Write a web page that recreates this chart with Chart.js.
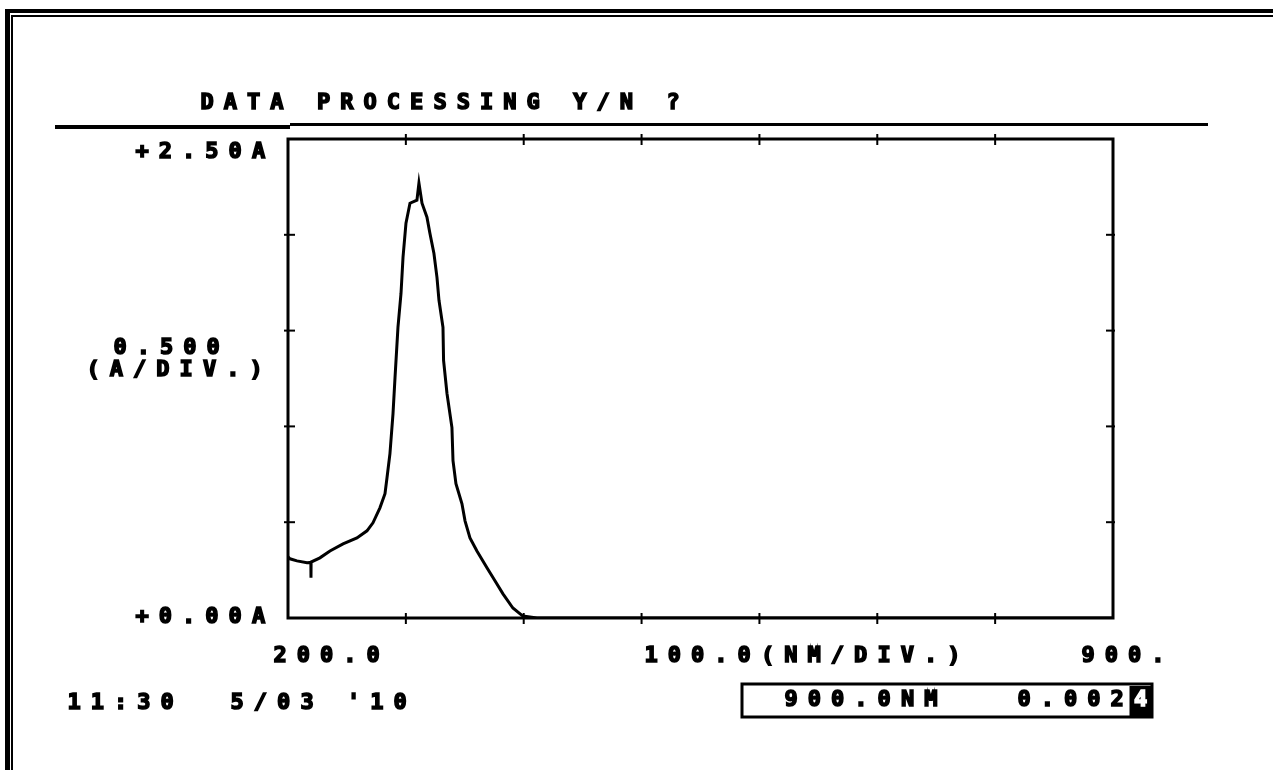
<!DOCTYPE html>
<html>
<head>
<meta charset="utf-8">
<title>DATA PROCESSING</title>
<script src="https://cdn.jsdelivr.net/npm/chart.js@4.4.1/dist/chart.umd.min.js"></script>
<style>
    body { margin: 0; background: #fff; }
    canvas { display: block; }
</style>
</head>
<body>
<canvas id="spectrum" width="1273" height="770"></canvas>
<script>
// wavelength (nm) and absorbance (A)
const wavelength = [200, 201.7, 207.6, 216.1, 219.4, 219.5, 219.6, 227.1, 235.6, 246.7, 258.5, 267.0, 272.1, 278.0, 282.3, 284.0, 286.5, 289.1, 290.8, 293.3, 295.9, 297.6, 300.1, 303.5, 309.4, 311.1, 313.7, 317.9, 320.4, 323.8, 326.4, 328.1, 331.5, 332.0, 334.9, 339.1, 340.0, 342.5, 347.6, 350.2, 354.4, 360.3, 368.8, 375.6, 382.4, 390.8, 399.3, 411.2, 900]
const absorbance = [0.319, 0.309, 0.298, 0.288, 0.290, 0.21, 0.292, 0.314, 0.350, 0.387, 0.418, 0.455, 0.497, 0.575, 0.649, 0.732, 0.858, 1.067, 1.255, 1.517, 1.695, 1.883, 2.061, 2.165, 2.181, 2.27, 2.165, 2.092, 2.008, 1.904, 1.778, 1.658, 1.517, 1.344, 1.172, 0.994, 0.821, 0.701, 0.596, 0.507, 0.418, 0.350, 0.262, 0.194, 0.126, 0.052, 0.010, 0, 0]

const xTicks = [300, 400, 500, 600, 700, 800]
const yTicks = [0.5, 1.0, 1.5, 2.0]
const xMin = 200, xMax = 900
const yMin = 0, yMax = 2.5

const yTopLabel = '+2.50A'
const yBottomLabel = '+0.00A'
const yDivLabel = '0.500'
const yUnitLabel = '(A/DIV.)'
const xStartLabel = '200.0'
const xDivLabel = '100.0(NM/DIV.)'
const xEndLabel = '900.'
const titleText = 'DATA PROCESSING Y/N ?'
const stampText = "11:30  5/03 '10"
const readoutText = '900.0NM   0.002'
const readoutCursor = '4'

const points = wavelength.map((w, i) => ({x: w, y: absorbance[i]}))

const PITCH = 23.3
const FONT = "bold 22px 'DejaVu Sans Mono'"

// draws a string in fixed cells, cx = centre of the first cell
function monoText(ctx, str, cx, cy){
    ctx.font = FONT
    const adv = ctx.measureText('0').width
    if('letterSpacing' in ctx) ctx.letterSpacing = (PITCH - adv) + 'px'
    ctx.textAlign = 'left'
    ctx.textBaseline = 'middle'
    ctx.lineWidth = 1.6
    ctx.lineJoin = 'miter'
    ctx.strokeStyle = ctx.fillStyle
    ctx.fillText(str, cx - adv/2, cy)
    ctx.strokeText(str, cx - adv/2, cy)
    if('letterSpacing' in ctx) ctx.letterSpacing = '0px'
}

function seg(ctx, x1, y1, x2, y2){
    ctx.beginPath()
    ctx.moveTo(x1, y1)
    ctx.lineTo(x2, y2)
    ctx.stroke()
}

const screenPlugin = {
    id : 'screen',
    beforeDraw(chart){
        const ctx = chart.ctx
        const {left, top, right, bottom} = chart.chartArea
        const xs = chart.scales.x
        const ys = chart.scales.y
        ctx.save()
        ctx.fillStyle = '#fff'
        ctx.fillRect(0, 0, chart.width, chart.height)
        ctx.fillStyle = '#000'
        ctx.strokeStyle = '#000'

        // double frame, top and left
        ctx.fillRect(5, 9, chart.width, 4)
        ctx.fillRect(5, 9, 5, chart.height)
        ctx.fillRect(11, 15, chart.width, 2)
        ctx.fillRect(11, 15, 2, chart.height)

        // rule under the prompt
        ctx.fillRect(55, 125, 235, 4)
        ctx.fillRect(290, 123, 918, 3)

        // plot box
        ctx.lineWidth = 3
        ctx.strokeRect(left, top, right - left, bottom - top)

        // division ticks
        ctx.lineWidth = 2
        xTicks.forEach(v => {
            const px = xs.getPixelForValue(v)
            seg(ctx, px, top - 5, px, top + 6)
            seg(ctx, px, bottom - 5, px, bottom + 6)
        })
        yTicks.forEach(v => {
            const py = ys.getPixelForValue(v)
            seg(ctx, left - 4, py, left + 7, py)
            seg(ctx, right - 7, py, right + 2, py)
        })

        // texts
        monoText(ctx, titleText, 207, 103)
        monoText(ctx, yTopLabel, 142, ys.getPixelForValue(yMax) + 13)
        monoText(ctx, yDivLabel, 120, 348)
        monoText(ctx, yUnitLabel, 93, 370)
        monoText(ctx, yBottomLabel, 142, ys.getPixelForValue(yMin) - 1)
        monoText(ctx, xStartLabel, xs.getPixelForValue(xMin) - 8, 656)
        monoText(ctx, xDivLabel, 651, 656)
        monoText(ctx, xEndLabel, 1088, 656)
        monoText(ctx, stampText, 74, 703)

        // readout box with inverted cursor cell
        ctx.lineWidth = 3
        ctx.strokeStyle = '#000'
        ctx.strokeRect(742, 684, 410, 33)
        monoText(ctx, readoutText, 791, 700)
        const cx = 791 + readoutText.length * PITCH
        ctx.fillRect(cx - 11, 686, 23, 30)
        ctx.fillStyle = '#fff'
        monoText(ctx, readoutCursor, cx, 700)
        ctx.restore()
    }
}

new Chart(document.getElementById('spectrum'), {
    type : 'line',
    data : {
        datasets : [{
            label : 'Abs',
            data : points,
            borderColor : '#000',
            borderWidth : 3,
            pointRadius : 0,
            tension : 0,
            fill : false
        }]
    },
    plugins : [screenPlugin],
    options : {
        responsive : false,
        animation : false,
        devicePixelRatio : 1,
        layout : {padding : {left : 288, top : 139, right : 160, bottom : 152}},
        plugins : {legend : {display : false}, tooltip : {enabled : false}},
        scales : {
            x : {type : 'linear', min : xMin, max : xMax, display : false},
            y : {min : yMin, max : yMax, display : false}
        }
    }
})
</script>
</body>
</html>
